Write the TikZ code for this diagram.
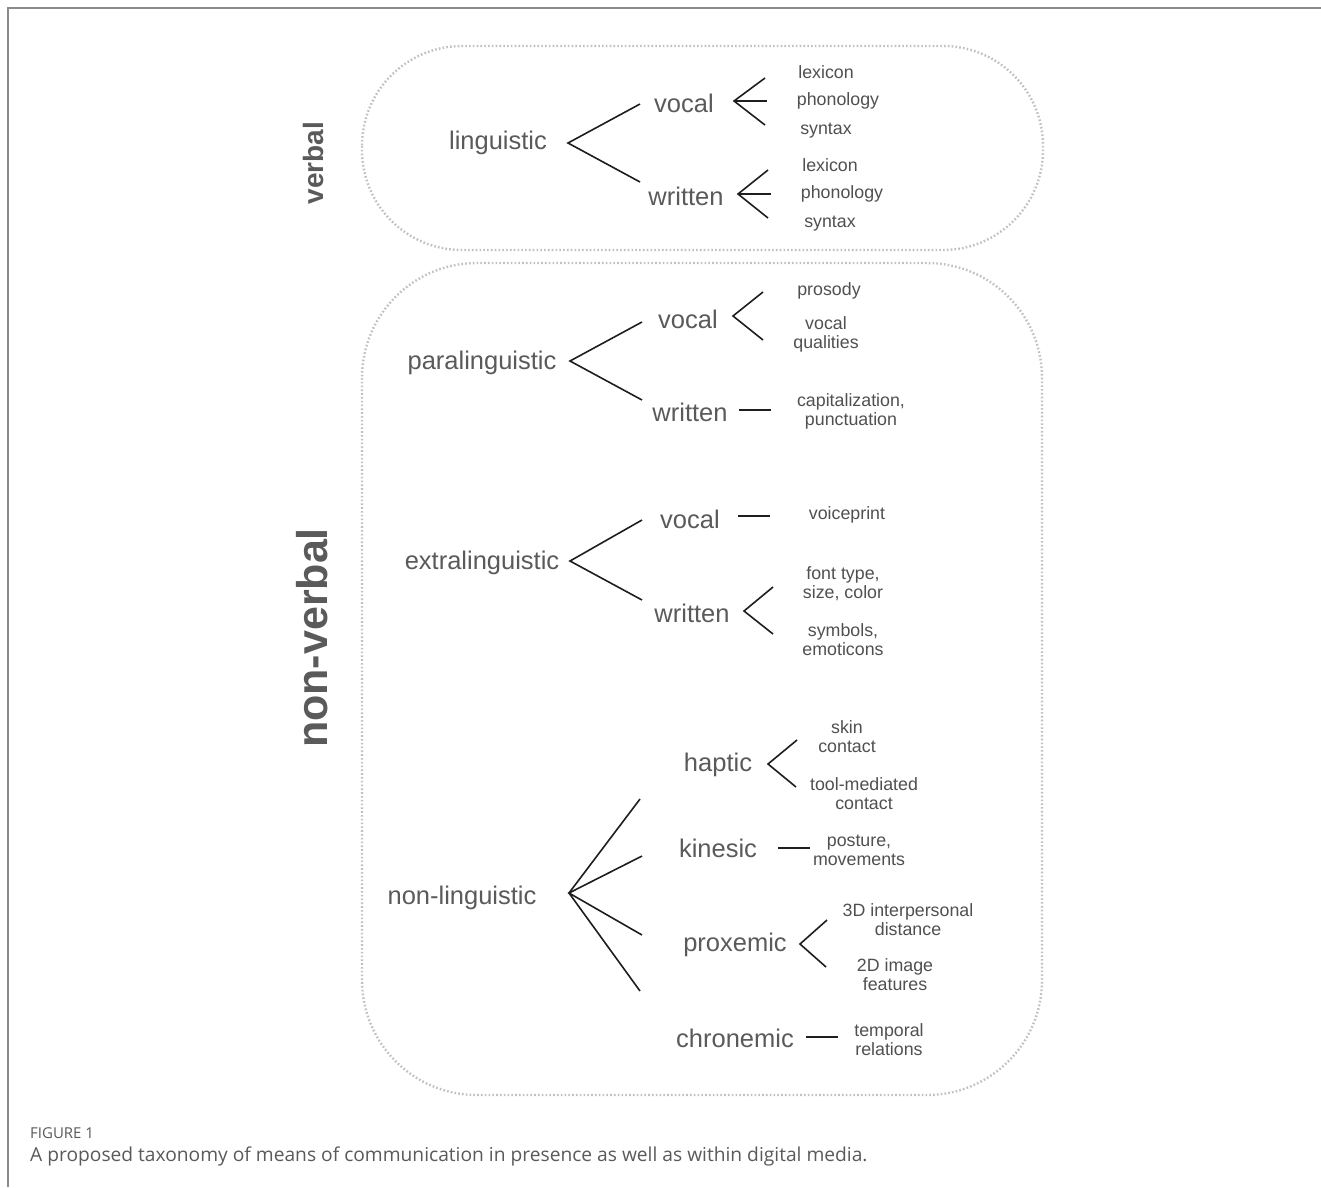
\documentclass[tikz,border=0pt]{standalone}
\usepackage{fontspec}
\setmainfont{Liberation Sans}
\newfontfamily\capfont{Open Sans}
\definecolor{txt}{HTML}{5A5A5A}
\definecolor{leaf}{HTML}{505050}
\definecolor{dots}{HTML}{C0C0C0}
\definecolor{frame}{HTML}{8A8A8A}
\definecolor{lines}{HTML}{1E1E1E}
\begin{document}
\begin{tikzpicture}[x=1pt,y=-1pt,
  main/.style={text=txt,inner sep=0pt,yshift=-2pt,font=\fontsize{25.5}{30}\selectfont},
  leafnode/.style={text=leaf,inner sep=0pt,align=center,font=\fontsize{17.8}{19}\selectfont},
  side/.style={text=txt,inner sep=0pt,rotate=90,font=\bfseries\fontsize{#1}{#1}\selectfont},
  conn/.style={draw=lines,line width=1.6pt},
  dotbox/.style={draw=dots,line width=2.4pt,dash pattern=on 1.6pt off 2.2pt}]
\useasboundingbox (0,0) rectangle (1321,1187);
\fill[white] (0,0) rectangle (1321,1187);
% frame
\draw[frame,line width=2.2pt] (8,1187) -- (8,8) -- (1321,8);
% boxes
\draw[dotbox,rounded corners=100pt] (362,46) rectangle (1043,250);
\draw[dotbox,rounded corners=115pt] (362,263) rectangle (1042,1095);
% side labels
\node[side=28] (verbal) at (313,163) {verbal};
\node[side=43] (nonverbal) at (312,638) {non-verbal};
% ---------- verbal ----------
\node[main] (ling) at (498,141) {linguistic};
\node[main] (vvoc) at (684,101) {vocal};
\node[main] (vwri) at (686,194) {written};
\coordinate (a1) at (568,143); \coordinate (a1u) at (640,104); \coordinate (a1d) at (640,182);
\draw[conn] (a1u) -- (a1) -- (a1d);
\node[leafnode] (vl1) at (826,72) {lexicon};
\node[leafnode] (vp1) at (838,101) {phonology};
\node[leafnode] (vs1) at (826,131) {syntax};
\coordinate (b1) at (734,101); \coordinate (b1u) at (765,78); \coordinate (b1m) at (767,101); \coordinate (b1d) at (765,125);
\draw[conn] (b1u) -- (b1) -- (b1d); \draw[conn] (b1) -- (b1m);
\node[leafnode] (vl2) at (830,165) {lexicon};
\node[leafnode] (vp2) at (842,194) {phonology};
\node[leafnode] (vs2) at (830,224) {syntax};
\coordinate (b2) at (738,194); \coordinate (b2u) at (768,170); \coordinate (b2m) at (771,194); \coordinate (b2d) at (768,218);
\draw[conn] (b2u) -- (b2) -- (b2d); \draw[conn] (b2) -- (b2m);
% ---------- paralinguistic ----------
\node[main] (para) at (482,361) {paralinguistic};
\node[main] (pvoc) at (688,317) {vocal};
\node[main] (pwri) at (690,410) {written};
\coordinate (a2) at (570,361); \coordinate (a2u) at (642,322); \coordinate (a2d) at (642,400);
\draw[conn] (a2u) -- (a2) -- (a2d);
\node[leafnode] (pros) at (829,291) {prosody};
\node[leafnode] (vq) at (826,334) {vocal\\qualities};
\coordinate (c1) at (733,316); \coordinate (c1u) at (763,292); \coordinate (c1d) at (763,340);
\draw[conn] (c1u) -- (c1) -- (c1d);
\node[leafnode] (cap) at (851,411) {capitalization,\\punctuation};
\coordinate (c2a) at (739,410); \coordinate (c2b) at (771,410);
\draw[conn] (c2a) -- (c2b);
% ---------- extralinguistic ----------
\node[main] (extra) at (482,561) {extralinguistic};
\node[main] (evoc) at (690,517) {vocal};
\node[main] (ewri) at (692,611) {written};
\coordinate (a3) at (570,561); \coordinate (a3u) at (642,520); \coordinate (a3d) at (642,600);
\draw[conn] (a3u) -- (a3) -- (a3d);
\coordinate (d1a) at (738,516); \coordinate (d1b) at (770,516);
\draw[conn] (d1a) -- (d1b);
\node[leafnode] (vp) at (847,515) {voiceprint};
\node[leafnode] (font) at (843,584) {font type,\\size, color};
\node[leafnode] (sym) at (843,640) {symbols,\\emoticons};
\coordinate (d2) at (744,611); \coordinate (d2u) at (773,587); \coordinate (d2d) at (773,634);
\draw[conn] (d2u) -- (d2) -- (d2d);
% ---------- non-linguistic ----------
\node[main] (nonling) at (462,896) {non-linguistic};
\coordinate (a4) at (569,893);
\coordinate (a4a) at (640,799); \coordinate (a4b) at (642,856);
\coordinate (a4c) at (642,935); \coordinate (a4d) at (640,991);
\draw[conn] (a4a) -- (a4) -- (a4d);
\draw[conn] (a4b) -- (a4) -- (a4c);
\node[main] (hap) at (718,763) {haptic};
\node[main] (kin) at (718,846) {kinesic};
\node[main] (prox) at (735,943) {proxemic};
\node[main] (chron) at (735,1036) {chronemic};
\node[leafnode] (skin) at (847,737) {skin\\contact};
\node[leafnode] (tool) at (864,794) {tool-mediated\\contact};
\coordinate (e1) at (768,764); \coordinate (e1u) at (797,740); \coordinate (e1d) at (796,787);
\draw[conn] (e1u) -- (e1) -- (e1d);
\node[leafnode] (post) at (859,850) {posture,\\movements};
\coordinate (e2a) at (778,848); \coordinate (e2b) at (810,848);
\draw[conn] (e2a) -- (e2b);
\node[leafnode] (threed) at (908,920) {3D interpersonal\\distance};
\node[leafnode] (twod) at (895,975) {2D image\\features};
\coordinate (e3) at (800,944); \coordinate (e3u) at (827,920); \coordinate (e3d) at (826,967);
\draw[conn] (e3u) -- (e3) -- (e3d);
\node[leafnode] (temp) at (889,1040) {temporal\\relations};
\coordinate (e4a) at (806,1037); \coordinate (e4b) at (838,1037);
\draw[conn] (e4a) -- (e4b);
% ---------- caption ----------
\node[anchor=base west,inner sep=0pt,text=txt,font=\capfont\fontsize{15}{17}\selectfont] (fig) at (30,1138) {FIGURE 1};
\node[anchor=base west,inner sep=0pt,text=txt,font=\capfont\fontsize{19.2}{21}\selectfont] (capt) at (30,1161) {A proposed taxonomy of means of communication in presence as well as within digital media.};
\end{tikzpicture}
\end{document}
